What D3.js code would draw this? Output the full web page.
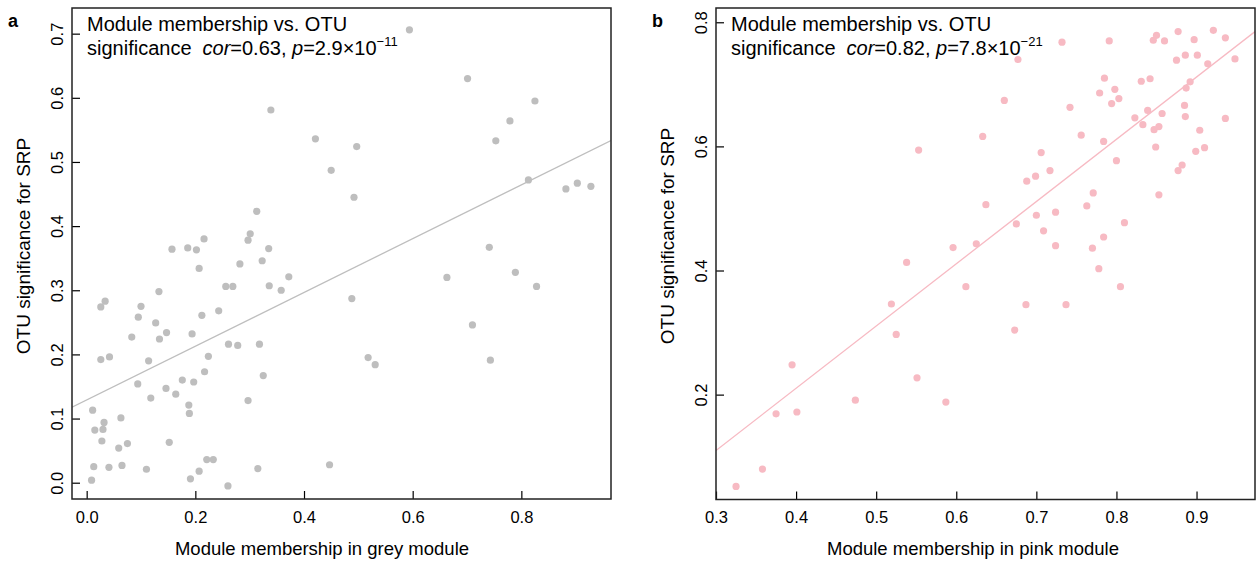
<!DOCTYPE html>
<html lang="en">
<head>
    <meta charset="UTF-8">
    <title>Module membership vs. OTU significance</title>
    <script src="https://d3js.org/d3.v7.min.js"></script>
    <style>
        body { margin: 0; background: #fff; }
        text { font-family: "Liberation Sans", Arial, sans-serif; fill: #000; }
    </style>
</head>
<body>
    <script>
        // panel a: grey module
        var greyMM = [0.594, 0.701, 0.825, 0.779, 0.753, 0.339, 0.421, 0.497, 0.450, 0.813,
            0.882, 0.903, 0.928, 0.492, 0.313, 0.301, 0.297, 0.216, 0.157, 0.186,
            0.202, 0.335, 0.741, 0.207, 0.323, 0.282, 0.663, 0.789, 0.256, 0.269,
            0.336, 0.372, 0.358, 0.133, 0.828, 0.488, 0.034, 0.026, 0.100, 0.095,
            0.212, 0.243, 0.127, 0.083, 0.134, 0.147, 0.194, 0.710, 0.026, 0.042,
            0.114, 0.261, 0.278, 0.318, 0.224, 0.518, 0.531, 0.743, 0.217, 0.325,
            0.094, 0.176, 0.197, 0.146, 0.164, 0.118, 0.297, 0.188, 0.189, 0.011,
            0.063, 0.032, 0.015, 0.030, 0.028, 0.075, 0.059, 0.152, 0.013, 0.041,
            0.065, 0.110, 0.221, 0.233, 0.207, 0.315, 0.009, 0.191, 0.260, 0.447];
        var greySig = [0.706, 0.630, 0.595, 0.564, 0.533, 0.581, 0.536, 0.524, 0.487, 0.472,
            0.458, 0.467, 0.462, 0.445, 0.423, 0.388, 0.378, 0.380, 0.364, 0.366,
            0.363, 0.365, 0.367, 0.334, 0.346, 0.341, 0.320, 0.328, 0.306, 0.306,
            0.307, 0.321, 0.300, 0.298, 0.306, 0.287, 0.283, 0.274, 0.275, 0.258,
            0.261, 0.268, 0.249, 0.227, 0.224, 0.234, 0.232, 0.246, 0.192, 0.196,
            0.190, 0.216, 0.214, 0.216, 0.197, 0.195, 0.184, 0.191, 0.173, 0.167,
            0.154, 0.160, 0.157, 0.147, 0.138, 0.132, 0.128, 0.121, 0.108, 0.113,
            0.101, 0.094, 0.082, 0.083, 0.065, 0.061, 0.054, 0.063, 0.025, 0.024,
            0.027, 0.021, 0.036, 0.036, 0.018, 0.022, 0.004, 0.006, -0.005, 0.028];
        var greyFit = [0.129, 0.419]; // intercept, slope

        // panel b: pink module
        var pinkMM = [0.325, 0.358, 0.375, 0.401, 0.395, 0.474, 0.519, 0.525, 0.538, 0.551,
            0.587, 0.596, 0.612, 0.625, 0.553, 0.732, 0.791, 0.850, 0.846, 0.860,
            0.877, 0.897, 0.921, 0.936, 0.948, 0.875, 0.886, 0.901, 0.914, 0.677,
            0.660, 0.785, 0.831, 0.842, 0.779, 0.798, 0.794, 0.803, 0.892, 0.887,
            0.742, 0.823, 0.839, 0.857, 0.833, 0.885, 0.886, 0.936, 0.847, 0.853,
            0.904, 0.633, 0.756, 0.784, 0.849, 0.899, 0.910, 0.706, 0.800, 0.717,
            0.882, 0.877, 0.688, 0.699, 0.771, 0.853, 0.637, 0.763, 0.724, 0.700,
            0.675, 0.810, 0.709, 0.784, 0.724, 0.770, 0.778, 0.805, 0.687, 0.737,
            0.673];
        var pinkSig = [0.052, 0.080, 0.169, 0.172, 0.248, 0.191, 0.346, 0.297, 0.413, 0.227,
            0.188, 0.437, 0.374, 0.443, 0.594, 0.768, 0.770, 0.779, 0.771, 0.770,
            0.785, 0.772, 0.787, 0.775, 0.741, 0.739, 0.747, 0.747, 0.733, 0.740,
            0.674, 0.710, 0.705, 0.709, 0.686, 0.692, 0.669, 0.677, 0.704, 0.694,
            0.663, 0.646, 0.658, 0.653, 0.635, 0.666, 0.648, 0.645, 0.627, 0.632,
            0.626, 0.616, 0.618, 0.608, 0.599, 0.592, 0.598, 0.590, 0.577, 0.561,
            0.570, 0.561, 0.544, 0.552, 0.525, 0.522, 0.506, 0.504, 0.494, 0.489,
            0.475, 0.477, 0.464, 0.454, 0.440, 0.436, 0.403, 0.374, 0.345, 0.345,
            0.304];
        var pinkFit = [-0.191, 1.003];

        var greyXTicks = [0.0, 0.2, 0.4, 0.6, 0.8];
        var greyYTicks = [0.0, 0.1, 0.2, 0.3, 0.4, 0.5, 0.6, 0.7];
        var pinkXTicks = [0.3, 0.4, 0.5, 0.6, 0.7, 0.8, 0.9];
        var pinkYTicks = [0.2, 0.4, 0.6, 0.8];

        var svg = d3.select('body').append('svg')
            .attr('width', 1259)
            .attr('height', 562);

        function draw_panel(p) {
            var x = d3.scaleLinear().domain(p.xdom).range([p.left, p.right]);
            var y = d3.scaleLinear().domain(p.ydom).range([p.bottom, p.top]);
            var g = svg.append('g');

            // regression line, clipped to the box
            var clipId = 'clip' + p.label;
            svg.append('clipPath').attr('id', clipId)
                .append('rect')
                .attr('x', p.left).attr('y', p.top)
                .attr('width', p.right - p.left).attr('height', p.bottom - p.top);
            g.append('line')
                .attr('clip-path', 'url(#' + clipId + ')')
                .attr('x1', x(p.xdom[0]))
                .attr('y1', y(p.fit[0] + p.fit[1] * p.xdom[0]))
                .attr('x2', x(p.xdom[1]))
                .attr('y2', y(p.fit[0] + p.fit[1] * p.xdom[1]))
                .attr('stroke', p.color)
                .attr('stroke-width', 1.3);

            g.selectAll('circle')
                .data(d3.range(p.xs.length))
                .enter()
                .append('circle')
                .attr('cx', function (i) { return x(p.xs[i]); })
                .attr('cy', function (i) { return y(p.ys[i]); })
                .attr('r', 3.6)
                .attr('fill', p.color);

            // axes, ticks pointing inward like the original
            var xa = g.append('g')
                .attr('transform', 'translate(0,' + p.bottom + ')')
                .call(d3.axisBottom(x).tickValues(p.xticks).tickFormat(d3.format('.1f'))
                    .tickSizeInner(-8).tickSizeOuter(0).tickPadding(12));
            var ya = g.append('g')
                .attr('transform', 'translate(' + p.left + ',0)')
                .call(d3.axisLeft(y).tickValues(p.yticks).tickFormat(d3.format('.1f'))
                    .tickSizeInner(-8).tickSizeOuter(0));
            [xa, ya].forEach(function (a) {
                a.select('.domain').remove();
                a.selectAll('line').attr('stroke', '#000').attr('stroke-width', 1.2);
                a.selectAll('text').attr('font-size', 16.5)
                    .style('font-family', '"Liberation Sans", Arial, sans-serif');
            });
            ya.selectAll('text')
                .attr('transform', 'rotate(-90)')
                .attr('x', 0)
                .attr('y', -9)
                .attr('dy', 0)
                .attr('text-anchor', 'middle');

            g.append('rect')
                .attr('x', p.left).attr('y', p.top)
                .attr('width', p.right - p.left).attr('height', p.bottom - p.top)
                .attr('fill', 'none')
                .attr('stroke', '#222')
                .attr('stroke-width', 1.5);

            // axis titles
            g.append('text')
                .attr('x', p.xtitleX)
                .attr('y', 555)
                .attr('text-anchor', 'middle')
                .attr('font-size', 18.5)
                .text(p.xtitle);
            g.append('text')
                .attr('transform', 'translate(' + (p.left - 42) + ',' + p.ytitleY + ') rotate(-90)')
                .attr('text-anchor', 'middle')
                .attr('font-size', 19)
                .text('OTU significance for SRP');

            // panel letter
            g.append('text')
                .attr('x', p.left - 64)
                .attr('y', 27)
                .attr('font-size', 18)
                .attr('font-weight', 'bold')
                .text(p.label);

            // annotation
            var ax = p.left + 15;
            g.append('text')
                .attr('x', ax).attr('y', 31)
                .attr('font-size', 20)
                .text('Module membership vs. OTU');
            var t = g.append('text')
                .attr('x', ax).attr('y', 55)
                .attr('font-size', 20);
            t.append('tspan').text('significance');
            t.append('tspan').attr('dx', 11).attr('font-style', 'italic').text('cor');
            t.append('tspan').text('=' + p.cor + ', ');
            t.append('tspan').attr('font-style', 'italic').text('p');
            t.append('tspan').text('=' + p.pval + '×10');
            t.append('tspan').attr('font-size', 13).attr('dy', -9).text('−' + p.pexp);
        }

        draw_panel({
            label: 'a', xs: greyMM, ys: greySig, fit: greyFit, color: '#bebebe',
            xdom: [-0.027, 0.965], ydom: [-0.0254, 0.740],
            left: 72, right: 611, top: 8, bottom: 499,
            xticks: greyXTicks, yticks: greyYTicks,
            xtitle: 'Module membership in grey module', xtitleX: 322, ytitleY: 246,
            cor: '0.63', pval: '2.9', pexp: '11'
        });
        draw_panel({
            label: 'b', xs: pinkMM, ys: pinkSig, fit: pinkFit, color: '#f7bac3',
            xdom: [0.3, 0.973], ydom: [0.031, 0.823],
            left: 716, right: 1255, top: 8, bottom: 499.5,
            xticks: pinkXTicks, yticks: pinkYTicks,
            xtitle: 'Module membership in pink module', xtitleX: 973, ytitleY: 236,
            cor: '0.82', pval: '7.8', pexp: '21'
        });
    </script>
</body>
</html>
